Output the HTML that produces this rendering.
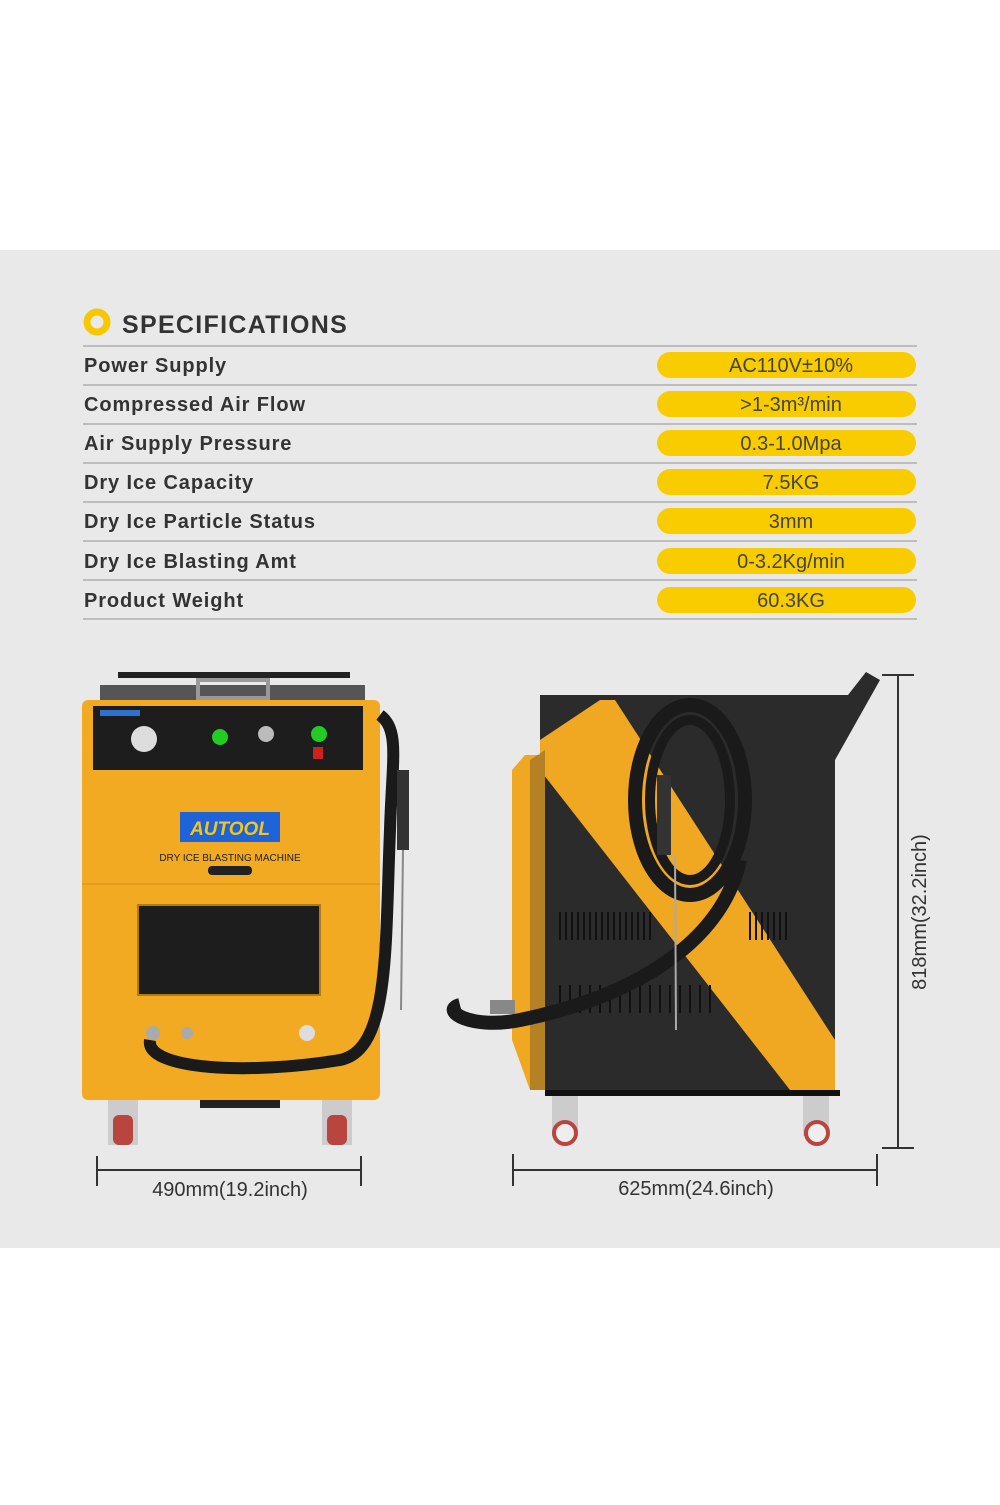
<!DOCTYPE html>
<html><head><style>
body{margin:0;width:1000px;height:1500px;background:#fff;font-family:"Liberation Sans",sans-serif;overflow:hidden}
</style></head><body>
<svg width="1000" height="1500" xmlns="http://www.w3.org/2000/svg" font-family="Liberation Sans, sans-serif">
<rect x="0" y="250" width="1000" height="998" fill="#e9e9e9"/>
<circle cx="97" cy="322" r="10" fill="none" stroke="#f7c800" stroke-width="7"/>
<text x="122" y="333" font-size="25" font-weight="bold" fill="#333" letter-spacing="1.3">SPECIFICATIONS</text>
<g stroke="#bdbdbd" stroke-width="2">
<line x1="83" y1="346" x2="917" y2="346"/><line x1="83" y1="385" x2="917" y2="385"/>
<line x1="83" y1="424" x2="917" y2="424"/><line x1="83" y1="463" x2="917" y2="463"/>
<line x1="83" y1="502" x2="917" y2="502"/><line x1="83" y1="541" x2="917" y2="541"/>
<line x1="83" y1="580" x2="917" y2="580"/><line x1="83" y1="619" x2="917" y2="619"/>
</g>
<g fill="#f9cc00">
<rect x="657" y="352" width="259" height="26" rx="13"/><rect x="657" y="391" width="259" height="26" rx="13"/>
<rect x="657" y="430" width="259" height="26" rx="13"/><rect x="657" y="469" width="259" height="26" rx="13"/>
<rect x="657" y="508" width="259" height="26" rx="13"/><rect x="657" y="548" width="259" height="26" rx="13"/>
<rect x="657" y="587" width="259" height="26" rx="13"/>
</g>
<g font-size="20" font-weight="bold" fill="#333" letter-spacing="0.9">
<text x="84" y="372">Power Supply</text><text x="84" y="411">Compressed Air Flow</text>
<text x="84" y="450">Air Supply Pressure</text><text x="84" y="489">Dry Ice Capacity</text>
<text x="84" y="528">Dry Ice Particle Status</text><text x="84" y="568">Dry Ice Blasting Amt</text>
<text x="84" y="607">Product Weight</text>
</g>
<g font-size="20" fill="#444" text-anchor="middle">
<text x="791" y="372">AC110V±10%</text><text x="791" y="411">&gt;1-3m³/min</text>
<text x="791" y="450">0.3-1.0Mpa</text><text x="791" y="489">7.5KG</text>
<text x="791" y="528">3mm</text><text x="791" y="568">0-3.2Kg/min</text>
<text x="791" y="607">60.3KG</text>
</g>
<!-- front machine -->
<rect x="118" y="672" width="232" height="6" fill="#222"/>
<rect x="100" y="685" width="265" height="20" fill="#555"/>
<rect x="198" y="680" width="70" height="18" fill="none" stroke="#999" stroke-width="4"/>
<rect x="82" y="700" width="298" height="400" rx="6" fill="#f1aa22"/>
<rect x="93" y="706" width="270" height="64" fill="#1d1d1d"/>
<rect x="100" y="710" width="40" height="6" fill="#2f6fd0"/>
<circle cx="144" cy="739" r="13" fill="#ddd"/>
<circle cx="220" cy="737" r="8" fill="#2c2"/><circle cx="266" cy="734" r="8" fill="#bbb"/><circle cx="319" cy="734" r="8" fill="#2c2"/>
<rect x="313" y="747" width="10" height="12" fill="#c22"/>
<line x1="82" y1="884" x2="380" y2="884" stroke="#d49015"/>
<rect x="180" y="812" width="100" height="30" fill="#1f63d8"/>
<text x="230" y="835" font-size="19" font-weight="bold" font-style="italic" fill="#f5c518" text-anchor="middle">AUTOOL</text>
<text x="230" y="861" font-size="10" fill="#222" text-anchor="middle">DRY ICE BLASTING MACHINE</text>
<rect x="208" y="866" width="44" height="9" rx="4" fill="#222"/>
<rect x="138" y="905" width="182" height="90" fill="#1d1d1d" stroke="#b27a10" stroke-width="2"/>
<circle cx="153" cy="1033" r="7" fill="#aaa"/><circle cx="187" cy="1033" r="6" fill="#aaa"/><circle cx="307" cy="1033" r="8" fill="#ddd"/>
<path d="M150 1040 C145 1070 250 1075 340 1060 C390 1050 385 950 390 830 C392 760 400 730 380 715" fill="none" stroke="#1a1a1a" stroke-width="12"/>
<rect x="397" y="770" width="12" height="80" fill="#333"/>
<line x1="403" y1="850" x2="401" y2="1010" stroke="#888" stroke-width="2"/>
<rect x="108" y="1100" width="30" height="45" fill="#ccc"/><rect x="322" y="1100" width="30" height="45" fill="#ccc"/>
<rect x="113" y="1115" width="20" height="30" rx="6" fill="#b8463e"/><rect x="327" y="1115" width="20" height="30" rx="6" fill="#b8463e"/>
<rect x="200" y="1100" width="80" height="8" fill="#222"/>
<!-- side machine -->
<path d="M540 695 L848 695 L866 672 L880 680 L835 760 L835 1090 L540 1090 Z" fill="#2b2b2b"/>
<path d="M512 770 L525 755 L545 755 L545 1090 L530 1090 L512 1040 Z" fill="#f0a823"/>
<path d="M540 740 L600 700 L615 700 L835 1040 L835 1090 L790 1090 L540 770 Z" fill="#f0a823"/>
<path d="M545 750 L545 1090 L530 1090 L530 760 Z" fill="#2b2b2b" opacity="0.3"/>
<g stroke="#111" stroke-width="2">
<path d="M560 912 v28 M566 912 v28 M572 912 v28 M578 912 v28 M584 912 v28 M590 912 v28 M596 912 v28 M602 912 v28 M608 912 v28 M614 912 v28 M620 912 v28 M626 912 v28 M632 912 v28 M638 912 v28 M644 912 v28 M650 912 v28 M750 912 v28 M756 912 v28 M762 912 v28 M768 912 v28 M774 912 v28 M780 912 v28 M786 912 v28"/>
<path d="M560 985 v28 M570 985 v28 M580 985 v28 M590 985 v28 M600 985 v28 M610 985 v28 M620 985 v28 M630 985 v28 M640 985 v28 M650 985 v28 M660 985 v28 M670 985 v28 M680 985 v28 M690 985 v28 M700 985 v28 M710 985 v28"/>
</g>
<ellipse cx="690" cy="800" rx="55" ry="95" fill="none" stroke="#1a1a1a" stroke-width="14"/>
<ellipse cx="690" cy="800" rx="40" ry="80" fill="none" stroke="#1a1a1a" stroke-width="10"/>
<path d="M740 860 C720 950 620 1000 520 1020 C470 1030 440 1010 460 1005" fill="none" stroke="#1a1a1a" stroke-width="14"/>
<rect x="490" y="1000" width="25" height="14" fill="#888"/>
<rect x="657" y="775" width="14" height="80" fill="#333"/>
<line x1="675" y1="855" x2="676" y2="1030" stroke="#aaa" stroke-width="2"/>
<rect x="545" y="1090" width="295" height="6" fill="#111"/>
<rect x="552" y="1096" width="26" height="40" fill="#ccc"/><rect x="803" y="1096" width="26" height="40" fill="#ccc"/>
<circle cx="565" cy="1133" r="11" fill="#eee" stroke="#b8463e" stroke-width="4"/>
<circle cx="817" cy="1133" r="11" fill="#eee" stroke="#b8463e" stroke-width="4"/>
<!-- dimensions -->
<g stroke="#333" stroke-width="2">
<line x1="97" y1="1170" x2="361" y2="1170"/><line x1="97" y1="1156" x2="97" y2="1186"/><line x1="361" y1="1156" x2="361" y2="1186"/>
<line x1="513" y1="1170" x2="877" y2="1170"/><line x1="513" y1="1154" x2="513" y2="1186"/><line x1="877" y1="1154" x2="877" y2="1186"/>
<line x1="898" y1="675" x2="898" y2="1148"/><line x1="882" y1="675" x2="914" y2="675"/><line x1="882" y1="1148" x2="914" y2="1148"/>
</g>
<g font-size="20" fill="#333" text-anchor="middle">
<text x="230" y="1196">490mm(19.2inch)</text>
<text x="696" y="1195">625mm(24.6inch)</text>
<text transform="translate(926 912) rotate(-90)">818mm(32.2inch)</text>
</g>
</svg>
</body></html>
